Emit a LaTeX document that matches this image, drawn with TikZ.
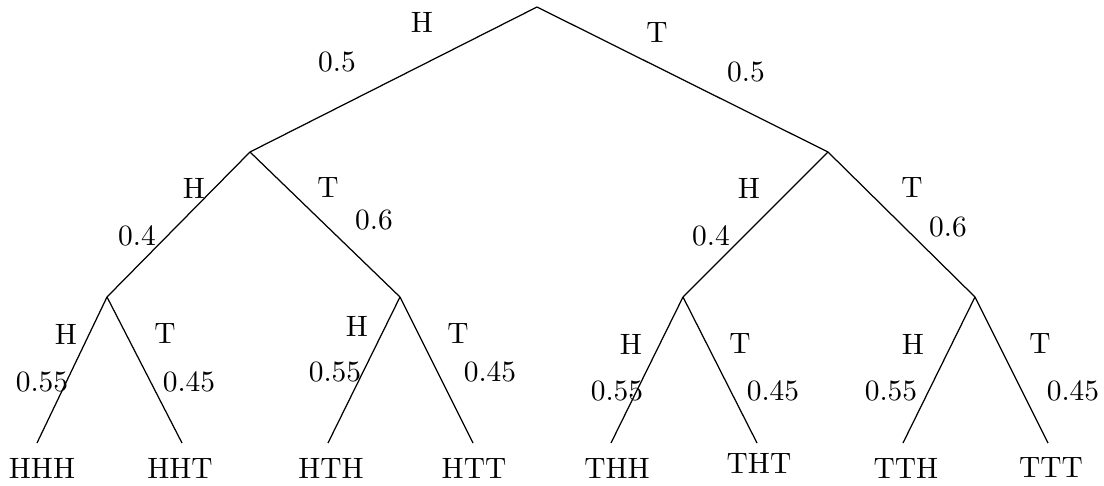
\documentclass[tikz,border=0pt]{standalone}
\begin{document}
\begin{tikzpicture}[x=0.3636pt,y=-0.3636pt,
  branch/.style={line width=0.45pt,black},
  lbl/.style={inner sep=0pt,font=\fontsize{10.7}{12}\selectfont},
  leaf/.style={inner sep=0pt,font=\fontsize{10.7}{12}\selectfont}]
\useasboundingbox (0,0) rectangle (1104,486);
% tree vertices
\coordinate (r) at (537,7);
\coordinate (h) at (250,152);
\coordinate (t) at (828,152);
\coordinate (hh) at (107,297);
\coordinate (ht) at (400,297);
\coordinate (th) at (683,297);
\coordinate (tt) at (975,297);
% leaf ends
\coordinate (hhh) at (37,443);
\coordinate (hht) at (182,443);
\coordinate (hth) at (328,443);
\coordinate (htt) at (473,443);
\coordinate (thh) at (611,443);
\coordinate (tht) at (757,443);
\coordinate (tth) at (903,443);
\coordinate (ttt) at (1048,443);
% branches
\draw[branch] (r) -- (h);
\draw[branch] (r) -- (t);
\draw[branch] (h) -- (hh);
\draw[branch] (h) -- (ht);
\draw[branch] (t) -- (th);
\draw[branch] (t) -- (tt);
\draw[branch] (hh) -- (hhh);
\draw[branch] (hh) -- (hht);
\draw[branch] (ht) -- (hth);
\draw[branch] (ht) -- (htt);
\draw[branch] (th) -- (thh);
\draw[branch] (th) -- (tht);
\draw[branch] (tt) -- (tth);
\draw[branch] (tt) -- (ttt);
% outcomes
\node[leaf] (lHHH) at (42,468) {HHH};
\node[leaf] (lHHT) at (180,468) {HHT};
\node[leaf] (lHTH) at (331,468) {HTH};
\node[leaf] (lHTT) at (474,468) {HTT};
\node[leaf] (lTHH) at (617,468) {THH};
\node[leaf] (lTHT) at (759,463) {THT};
\node[leaf] (lTTH) at (906,468) {TTH};
\node[leaf] (lTTT) at (1051,468) {TTT};
% first toss
\node[lbl] (a1) at (422,22) {H};
\node[lbl] (a2) at (337,62) {0.5};
\node[lbl] (a3) at (657,33) {T};
\node[lbl] (a4) at (746,72) {0.5};
% second toss
\node[lbl] (b1) at (194,188) {H};
\node[lbl] (b2) at (137,236) {0.4};
\node[lbl] (b3) at (328,188) {T};
\node[lbl] (b4) at (374,220) {0.6};
\node[lbl] (b5) at (749,188) {H};
\node[lbl] (b6) at (711,236) {0.4};
\node[lbl] (b7) at (912,188) {T};
\node[lbl] (b8) at (948,227) {0.6};
% third toss
\node[lbl] (c1) at (66,334) {H};
\node[lbl] (c2) at (42,382) {0.55};
\node[lbl] (c3) at (165,334) {T};
\node[lbl] (c4) at (189,382) {0.45};
\node[lbl] (c5) at (357,326) {H};
\node[lbl] (c6) at (335,372) {0.55};
\node[lbl] (c7) at (458,334) {T};
\node[lbl] (c8) at (490,372) {0.45};
\node[lbl] (c9) at (631,344) {H};
\node[lbl] (c10) at (617,391) {0.55};
\node[lbl] (c11) at (740,344) {T};
\node[lbl] (c12) at (773,391) {0.45};
\node[lbl] (c13) at (913,344) {H};
\node[lbl] (c14) at (891,391) {0.55};
\node[lbl] (c15) at (1040,344) {T};
\node[lbl] (c16) at (1073,391) {0.45};
\end{tikzpicture}
\end{document}
